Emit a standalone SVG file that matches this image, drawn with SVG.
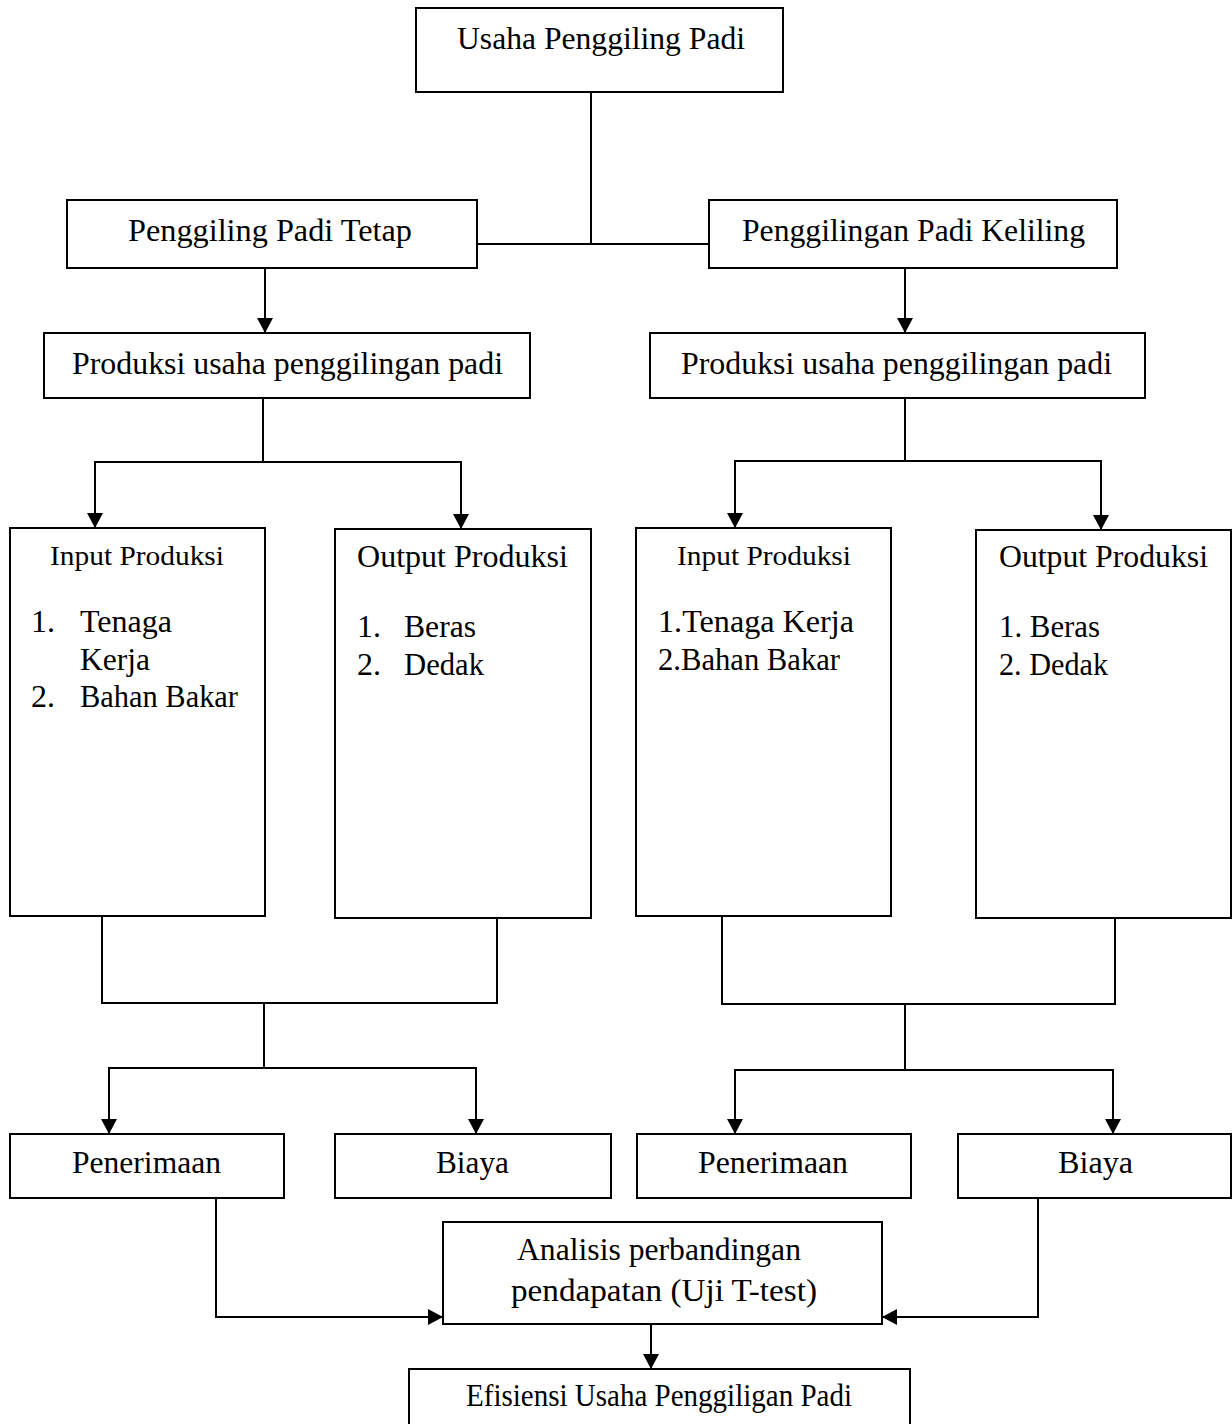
<svg xmlns="http://www.w3.org/2000/svg" width="1232" height="1424" viewBox="0 0 1232 1424">
<style>
.box{fill:#fff;stroke:#000;stroke-width:2}
.t{font-family:"Liberation Serif","Times New Roman",serif;font-size:32px;fill:#000}
.ts{font-family:"Liberation Serif","Times New Roman",serif;font-size:28px;fill:#000}
.c{fill:none;stroke:#000;stroke-width:2}
</style>
<defs>
<marker id="ah" markerUnits="userSpaceOnUse" markerWidth="16" markerHeight="16" refX="15" refY="8" orient="auto">
<path d="M0,0 L15,8 L0,16 z" fill="#000"/>
</marker>
</defs>
<rect width="1232" height="1424" fill="#fff"/>
<g id="connectors">
<path class="c" d="M591,92 V244 M477,244 H709"/>
<path class="c" d="M265,268 V333" marker-end="url(#ah)"/>
<path class="c" d="M905,268 V333" marker-end="url(#ah)"/>
<path class="c" d="M263,398 V462 M95,462 H461"/>
<path class="c" d="M95,461 V528" marker-end="url(#ah)"/>
<path class="c" d="M461,461 V529" marker-end="url(#ah)"/>
<path class="c" d="M905,398 V460 M735,461 H1101"/>
<path class="c" d="M735,460 V528" marker-end="url(#ah)"/>
<path class="c" d="M1101,460 V530" marker-end="url(#ah)"/>
<path class="c" d="M102,916 V1003 H497 V918 M264,1003 V1068 M109,1068 H476"/>
<path class="c" d="M109,1067 V1134" marker-end="url(#ah)"/>
<path class="c" d="M476,1067 V1134" marker-end="url(#ah)"/>
<path class="c" d="M722,916 V1004 H1115 V918 M905,1003 V1070 M735,1070 H1113"/>
<path class="c" d="M735,1069 V1134" marker-end="url(#ah)"/>
<path class="c" d="M1113,1069 V1134" marker-end="url(#ah)"/>
<path class="c" d="M216,1198 V1317 H443" marker-end="url(#ah)"/>
<path class="c" d="M1038,1198 V1317 H882" marker-end="url(#ah)"/>
<path class="c" d="M651,1324 V1369" marker-end="url(#ah)"/>
<line x1="662" y1="682" x2="662" y2="770" stroke="#777" stroke-width="1.2"/>
</g>
<g id="n-usaha"><rect class="box" x="416" y="8" width="367" height="84"/><text class="t" x="457" y="49" textLength="288" lengthAdjust="spacingAndGlyphs">Usaha Penggiling Padi</text></g>
<g id="n-tetap"><rect class="box" x="67" y="200" width="410" height="68"/><text class="t" x="128" y="241" textLength="284" lengthAdjust="spacingAndGlyphs">Penggiling Padi Tetap</text></g>
<g id="n-keliling"><rect class="box" x="709" y="200" width="408" height="68"/><text class="t" x="742" y="241" textLength="343" lengthAdjust="spacingAndGlyphs">Penggilingan Padi Keliling</text></g>
<g id="n-prod-l"><rect class="box" x="44" y="333" width="486" height="65"/><text class="t" x="72" y="374" textLength="431" lengthAdjust="spacingAndGlyphs">Produksi usaha penggilingan padi</text></g>
<g id="n-prod-r"><rect class="box" x="650" y="333" width="495" height="65"/><text class="t" x="681" y="374" textLength="431" lengthAdjust="spacingAndGlyphs">Produksi usaha penggilingan padi</text></g>
<g id="n-input-l"><rect class="box" x="10" y="528" width="255" height="388"/>
<text class="ts" x="50" y="565" textLength="174" lengthAdjust="spacingAndGlyphs">Input Produksi</text>
<text class="t" x="31" y="632">1.</text><text class="t" x="80" y="632" textLength="92" lengthAdjust="spacingAndGlyphs">Tenaga</text>
<text class="t" x="80" y="670" textLength="70" lengthAdjust="spacingAndGlyphs">Kerja</text>
<text class="t" x="31" y="707">2.</text><text class="t" x="80" y="707" textLength="158" lengthAdjust="spacingAndGlyphs">Bahan Bakar</text></g>
<g id="n-output-l"><rect class="box" x="335" y="529" width="256" height="389"/>
<text class="t" x="357" y="567" textLength="211" lengthAdjust="spacingAndGlyphs">Output Produksi</text>
<text class="t" x="357" y="637">1.</text><text class="t" x="404" y="637" textLength="72" lengthAdjust="spacingAndGlyphs">Beras</text>
<text class="t" x="357" y="675">2.</text><text class="t" x="404" y="675" textLength="80" lengthAdjust="spacingAndGlyphs">Dedak</text></g>
<g id="n-input-r"><rect class="box" x="636" y="528" width="255" height="388"/>
<text class="ts" x="677" y="565" textLength="174" lengthAdjust="spacingAndGlyphs">Input Produksi</text>
<text class="t" x="658" y="632" textLength="196" lengthAdjust="spacingAndGlyphs">1.Tenaga Kerja</text>
<text class="t" x="658" y="670" textLength="182" lengthAdjust="spacingAndGlyphs">2.Bahan Bakar</text></g>
<g id="n-output-r"><rect class="box" x="976" y="530" width="255" height="388"/>
<text class="t" x="999" y="567" textLength="209" lengthAdjust="spacingAndGlyphs">Output Produksi</text>
<text class="t" x="999" y="637" textLength="101" lengthAdjust="spacingAndGlyphs">1. Beras</text>
<text class="t" x="999" y="675" textLength="109" lengthAdjust="spacingAndGlyphs">2. Dedak</text></g>
<g id="n-pen-l"><rect class="box" x="10" y="1134" width="274" height="64"/><text class="t" x="72" y="1173" textLength="149" lengthAdjust="spacingAndGlyphs">Penerimaan</text></g>
<g id="n-biaya-l"><rect class="box" x="335" y="1134" width="276" height="64"/><text class="t" x="436" y="1173" textLength="73" lengthAdjust="spacingAndGlyphs">Biaya</text></g>
<g id="n-pen-r"><rect class="box" x="637" y="1134" width="274" height="64"/><text class="t" x="698" y="1173" textLength="150" lengthAdjust="spacingAndGlyphs">Penerimaan</text></g>
<g id="n-biaya-r"><rect class="box" x="958" y="1134" width="273" height="64"/><text class="t" x="1058" y="1173" textLength="75" lengthAdjust="spacingAndGlyphs">Biaya</text></g>
<g id="n-analisis"><rect class="box" x="443" y="1222" width="439" height="102"/>
<text class="t" x="517" y="1260" textLength="284" lengthAdjust="spacingAndGlyphs">Analisis perbandingan</text>
<text class="t" x="511" y="1301" textLength="306" lengthAdjust="spacingAndGlyphs">pendapatan (Uji T-test)</text></g>
<g id="n-efisiensi"><rect class="box" x="409" y="1369" width="501" height="60"/>
<text class="t" x="466" y="1406" textLength="386" lengthAdjust="spacingAndGlyphs">Efisiensi Usaha Penggiligan Padi</text></g>
</svg>
